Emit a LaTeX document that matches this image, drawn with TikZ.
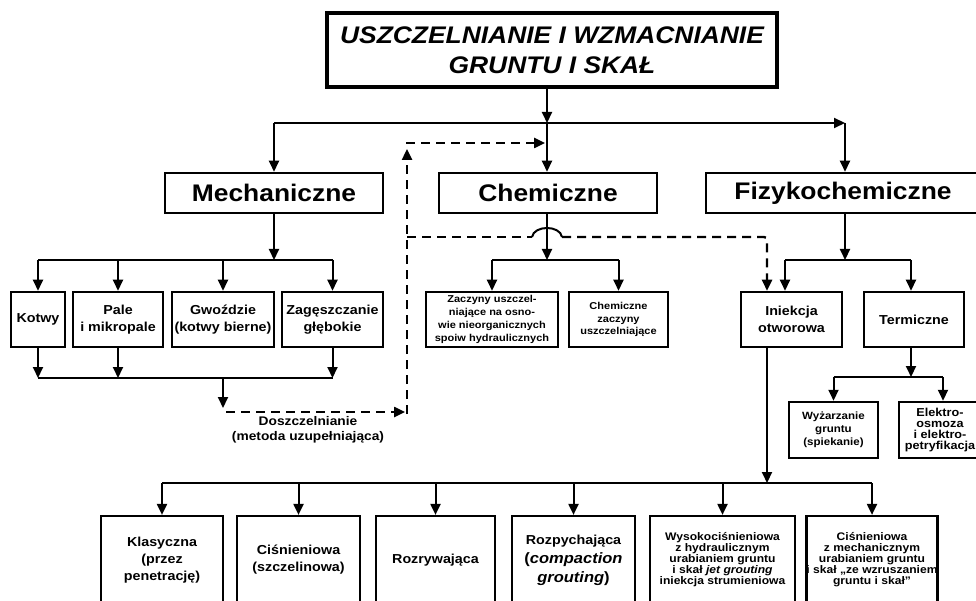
\documentclass[tikz,border=0pt]{standalone}
\usepackage{fontspec}
\setmainfont{Liberation Sans}[FakeStretch=1.1]
\usetikzlibrary{arrows.meta}
\newcommand\myfs[2]{\fontsize{#1pt}{#2pt}\selectfont}
\begin{document}
\begin{tikzpicture}[x=1pt,y=-1pt,
  box/.style={draw, line width=2.5pt, align=center, inner sep=0pt},
  conn/.style={line width=2pt},
  arr/.style={conn, -{Triangle[length=11pt,width=10pt]}},
  dsh/.style={line width=2.4pt, dash pattern=on 9pt off 6pt},
  darr/.style={dsh, -{Triangle[length=11pt,width=10pt]}},
  ttl/.style={font=\myfs{24}{30}\bfseries\itshape},
  big/.style={font=\myfs{24}{28}\bfseries},
  med/.style={font=\myfs{13}{17}\bfseries},
  sml/.style={font=\myfs{10}{13}\bfseries},
  tiny/.style={font=\myfs{11}{11}\bfseries}
]
\fill[white] (0,0) rectangle (976,601);
\useasboundingbox (0,0) rectangle (976,601);

% title and main groups
\node[box, line width=3.2pt, minimum width=450pt, minimum height=74pt, ttl] (title) at (552,50) {USZCZELNIANIE I WZMACNIANIE\\GRUNTU I SKAŁ};
\node[box, minimum width=218pt, minimum height=40pt, big] (mech) at (274,193) {Mechaniczne};
\node[box, minimum width=218pt, minimum height=40pt, big] (chem) at (548,193) {Chemiczne};
\node[box, minimum width=274pt, minimum height=40pt, big] (fiz) at (843,193) {Fizykochemiczne};

% second level
\node[box, minimum width=54pt, minimum height=55pt, med] (kotwy) at (38,319.5) {Kotwy};
\node[box, minimum width=90pt, minimum height=55pt, med] (pale) at (118,319.5) {Pale\\i mikropale};
\node[box, minimum width=102pt, minimum height=55pt, med] (gwoz) at (223,319.5) {Gwoździe\\(kotwy bierne)};
\node[box, minimum width=101pt, minimum height=55pt, med] (zag) at (332.5,319.5) {Zagęszczanie\\głębokie};
\node[box, minimum width=132pt, minimum height=55pt, sml] (zac) at (492,319.5) {Zaczyny uszczel-\\niające na osno-\\wie nieorganicznych\\spoiw hydraulicznych};
\node[box, minimum width=99pt, minimum height=55pt, font=\myfs{10}{12.5}\bfseries] (chz) at (618.5,319.5) {Chemiczne\\zaczyny\\uszczelniające};
\node[box, minimum width=101pt, minimum height=55pt, med] (ini) at (791.5,319.5) {Iniekcja\\otworowa};
\node[box, minimum width=100pt, minimum height=55pt, med] (term) at (914,319.5) {Termiczne};

% thermal subgroups
\node[box, minimum width=89pt, minimum height=56pt, font=\myfs{10.5}{13}\bfseries] (wyz) at (833.5,430) {Wyżarzanie\\gruntu\\(spiekanie)};
\node[box, minimum width=82pt, minimum height=56pt, font=\myfs{11.5}{11}\bfseries] (elek) at (940,430) {Elektro-\\osmoza\\i elektro-\\petryfikacja};

% doszczelnianie label
\node[font=\myfs{12.5}{15}\bfseries, align=center, inner sep=0pt] (dosz) at (308,430) {Doszczelnianie\\(metoda uzupełniająca)};

% bottom row
\node[box, line width=2.2pt, minimum width=122pt, minimum height=88pt, med] (kla) at (162,560) {Klasyczna\\(przez\\penetrację)};
\node[box, line width=2.2pt, minimum width=123pt, minimum height=88pt, med] (cis) at (298.5,560) {Ciśnieniowa\\(szczelinowa)};
\node[box, line width=2.2pt, minimum width=119pt, minimum height=88pt, med] (rozr) at (435.5,560) {Rozrywająca};
\node[box, line width=2.2pt, minimum width=123pt, minimum height=88pt, font=\myfs{15}{19}\bfseries] (rozp) at (573.5,560) {{\myfs{13}{19}Rozpychająca}\\(\textit{compaction}\\\textit{grouting})};
\node[box, line width=2.2pt, minimum width=145pt, minimum height=88pt, tiny] (wys) at (722.5,560) {Wysokociśnieniowa\\z hydraulicznym\\urabianiem gruntu\\i skał \textit{jet grouting}\\iniekcja strumieniowa};
\node[box, line width=2.2pt, minimum width=128pt, minimum height=88pt, tiny] (cism) at (872,560) {Ciśnieniowa\\z mechanicznym\\urabianiem gruntu\\i skał „ze wzruszaniem\\gruntu i skał”};

% top distribution
\coordinate (hL) at (274,123);
\coordinate (J0) at (547,123);
\coordinate (hR) at (845,123);
\draw[arr] (title.south -| J0) -- (J0);
\draw[arr] (hL) -- (hR);
\draw[arr] (hL) -- (hL |- mech.north);
\draw[arr] (J0) -- (J0 |- chem.north);
\draw[arr] (hR) -- (hR |- fiz.north);

% mechaniczne branch
\coordinate (mbar) at (274,260);
\draw[arr] (mech.south) -- (mbar);
\draw[conn] (kotwy.north |- mbar) -- (zag.north |- mbar);
\foreach \n in {kotwy,pale,gwoz,zag} \draw[arr] (\n.north |- mbar) -- (\n.north);
\coordinate (mbot) at (223,378);
\foreach \n in {kotwy,pale,zag} \draw[arr] (\n.south) -- (\n.south |- mbot);
\draw[conn] (kotwy.south |- mbot) -- (zag.south |- mbot);
\coordinate (dA) at (223,408);
\draw[arr] (mbot) -- (dA);
\coordinate (dB0) at (226,412);
\coordinate (dB) at (405,412);
\draw[darr] (dB0) -- (dB);
\coordinate (vB) at (407,414);
\coordinate (vT) at (407,149);
\draw[darr] (vB) -- (vT);
\coordinate (tL) at (406,143);
\coordinate (tR) at (545,143);
\draw[darr] (tL) -- (tR);

% dashed link to iniekcja with hop
\coordinate (dJ) at (407,237);
\coordinate (hopL) at (532,237);
\coordinate (hopR) at (562,237);
\coordinate (dq) at (767,237);
\draw[dsh] (dJ) -- (hopL);
\draw[conn] (hopL) .. controls +(2,-12) and +(-2,-12) .. (hopR);
\draw[darr, rounded corners=3pt] (hopR) -- (dq) -- (dq |- ini.north);

% chemiczne branch
\coordinate (cbar) at (547,260);
\draw[arr] (J0 |- chem.south) -- (cbar);
\draw[conn] (zac.north |- cbar) -- (chz.north |- cbar);
\draw[arr] (zac.north |- cbar) -- (zac.north);
\draw[arr] (chz.north |- cbar) -- (chz.north);

% fizykochemiczne branch
\coordinate (fbar) at (845,260);
\coordinate (fL) at (785,260);
\coordinate (fR) at (911,260);
\draw[arr] (hR |- fiz.south) -- (fbar);
\draw[conn] (fL) -- (fR);
\draw[arr] (fL) -- (fL |- ini.north);
\draw[arr] (fR) -- (fR |- term.north);

% termiczne branch
\coordinate (tbar) at (911,377);
\coordinate (eTop) at (943,377);
\draw[arr] (fR |- term.south) -- (tbar);
\draw[conn] (wyz.north |- tbar) -- (eTop);
\draw[arr] (wyz.north |- tbar) -- (wyz.north);
\draw[arr] (eTop) -- (eTop |- elek.north);

% iniekcja branch
\coordinate (ibar) at (767,483);
\draw[arr] (dq |- ini.south) -- (ibar);
\draw[conn] (kla.north |- ibar) -- (cism.north |- ibar);
\foreach \n in {kla,cis,rozr,rozp,wys,cism} \draw[arr] (\n.north |- ibar) -- (\n.north);
\end{tikzpicture}
\end{document}
